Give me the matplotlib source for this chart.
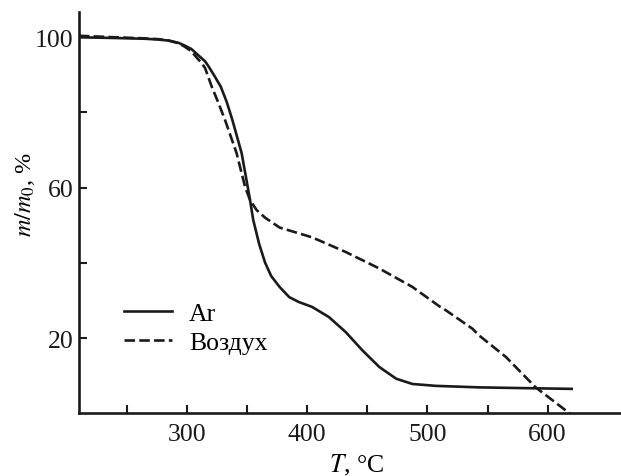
import numpy as np
import matplotlib
matplotlib.use("Agg")
import matplotlib.pyplot as plt

plt.rcParams["font.family"] = ["Liberation Serif", "DejaVu Serif"]
plt.rcParams["mathtext.fontset"] = "stix"

# Ar (solid) curve
t_ar = [210, 240, 265, 276, 285, 293, 298, 303.5, 308, 315, 318, 323, 328, 333,
        337.7, 345.4, 350.4, 352.4, 355, 360, 365, 370, 377, 385, 393, 404,
        418, 432, 446, 460, 474, 487.5, 507, 543, 580, 620]
m_ar = [100.0, 99.8, 99.6, 99.4, 99.1, 98.5, 97.8, 96.9, 95.6, 93.6, 92.2, 89.6,
        86.9, 82.8, 78.0, 69.2, 60.3, 56.7, 51.5, 45.0, 40.0, 36.5, 33.6, 30.9,
        29.6, 28.3, 25.6, 21.6, 16.7, 12.3, 9.2, 7.8, 7.3, 6.9, 6.7, 6.5]

# Air (dashed) curve
t_air = [210, 240, 265, 276, 285, 293, 298, 303.5, 308, 312, 315, 320.5, 326,
         331.6, 341.2, 348.2, 352.4, 358, 365, 377, 404, 432, 460, 487.5,
         509.7, 515.3, 537.4, 543, 565.2, 590, 619]
m_air = [100.4, 100.0, 99.7, 99.5, 99.1, 98.4, 97.5, 96.3, 94.6, 93.2, 91.8,
         86.9, 82.6, 78.0, 69.2, 60.3, 56.7, 54.0, 52.0, 49.4, 46.8, 42.9,
         38.5, 33.6, 28.5, 27.4, 22.5, 20.7, 15.0, 6.9, -0.2]

x_ticks = [250, 300, 350, 400, 450, 500, 550, 600]
x_labels = ["", "300", "", "400", "", "500", "", "600"]
y_ticks = [20, 40, 60, 80, 100]
y_labels = ["20", "", "60", "", "100"]

fig = plt.figure(figsize=(6.21, 4.77), dpi=100)
ax = fig.add_axes([0.127, 0.1314, 0.873, 0.842])

ax.plot(t_ar, m_ar, color="#1a1a1a", lw=1.9, label="Ar")
ax.plot(t_air, m_air, color="#1a1a1a", lw=1.9, dashes=(4.0, 1.6), label="Воздух")

ax.set_xlim(210, 661)
ax.set_ylim(0, 106.8)
ax.set_xticks(x_ticks)
ax.set_xticklabels(x_labels)
ax.set_yticks(y_ticks)
ax.set_yticklabels(y_labels)

for side in ["top", "right"]:
    ax.spines[side].set_visible(False)
for side in ["left", "bottom"]:
    ax.spines[side].set_linewidth(1.9)
    ax.spines[side].set_color("#1a1a1a")

ax.tick_params(direction="in", length=5.8, width=1.5, labelsize=18.5,
               colors="#1a1a1a")
ax.tick_params(axis="x", pad=7)
ax.tick_params(axis="y", pad=4)

ax.set_xlabel("$T$, °C", fontsize=18.5)
ax.set_ylabel("$m/m_0$, %", fontsize=17.5)
ax.xaxis.set_label_coords(0.513, -0.095)
ax.yaxis.set_label_coords(-0.078, 0.546)

ax.legend(loc="lower left", bbox_to_anchor=(0.04, 0.09), frameon=False,
          fontsize=18.5, handlelength=1.9, handletextpad=0.65,
          labelspacing=0.25)

fig.savefig("out.png", dpi=100)
